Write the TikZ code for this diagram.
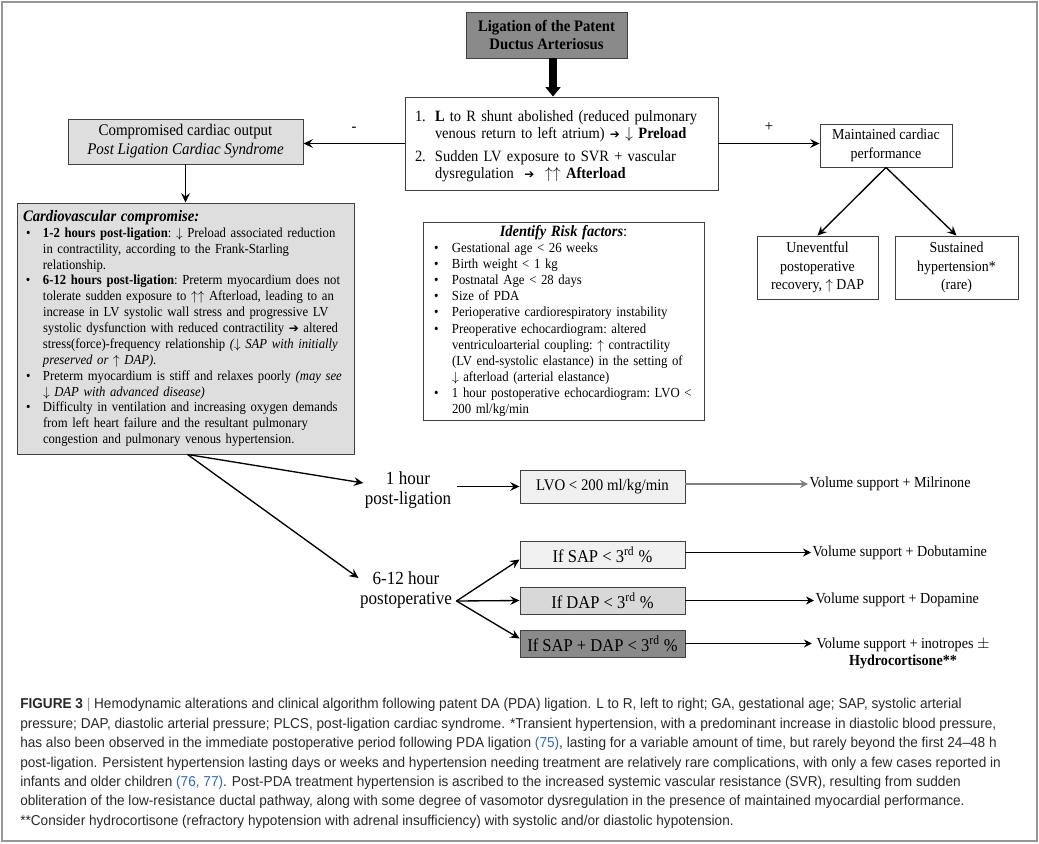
\documentclass[tikz,border=0pt]{standalone}
\usepackage{fontspec}
\setmainfont{Liberation Serif}[FakeStretch=0.92]
\setsansfont{Liberation Sans}
\newfontfamily\capfont[FakeStretch=0.95]{Liberation Sans}
\newfontfamily\symfont{DejaVu Sans}
\usetikzlibrary{arrows.meta,calc}
\definecolor{pdadark}{RGB}{138,138,138}
\definecolor{pdalight}{RGB}{222,222,222}
\definecolor{pdapale}{RGB}{240,240,240}
\definecolor{pdamid}{RGB}{216,216,216}
\definecolor{pdaframe}{RGB}{150,150,150}
\definecolor{pdacite}{RGB}{52,104,178}
\definecolor{pdacap}{RGB}{40,40,40}
\newlength\pxl \setlength\pxl{0.75pt}
\newlength\pdahang
\newlength\pdashift
\newcommand{\pdara}{{\symfont\small\char"2794}}
\newcommand{\pdabul}{\par\noindent\hangindent=\pdahang\hangafter=1%
    \makebox[\pdahang][l]{\hspace{\pdashift}\textbullet}}
\newcommand{\pdanum}[1]{\par\noindent\hangindent=\pdahang\hangafter=1%
    \makebox[\pdahang][l]{\hspace{\pdashift}#1}}
\newcommand{\pdafs}{\fontsize{10.35}{11.9}\selectfont}
\newcommand{\pdaflat}{\raggedright\frenchspacing\hyphenpenalty=10000\exhyphenpenalty=10000\hbadness=10000\hfuzz=20pt}
\tikzset{
    pdabox/.style={draw=black!75, line width=0.7pt, align=center, inner sep=2pt},
    pdalist/.style={pdabox, align=left, inner ysep=0pt},
    pdaarrow/.style={-{Stealth[length=7pt,width=6.5pt,inset=2.5pt]}, line width=1pt},
    pdathin/.style={-{Stealth[length=6pt,width=6pt,inset=2pt]}, line width=0.8pt},
    pdathick/.style={-{Triangle[length=7pt,width=11pt]}, line width=5.5pt},
    pdalabel/.style={align=center, inner sep=1pt}
}
\begin{document}
\begin{tikzpicture}[x=0.75pt, y=-0.75pt, font=\pdafs]
    \useasboundingbox (0,0) rectangle (1039,843);
    \draw[pdaframe, line width=0.8pt] (2,2) rectangle (1037,841);

    % top of the algorithm
    \node[pdabox, fill=pdadark, minimum width=161*\pxl, minimum height=46*\pxl,
        font=\fontsize{12}{14}\selectfont\bfseries] (ligation) at (546.5,35)
        {Ligation of the Patent\\Ductus Arteriosus};
    \node[pdalist, minimum width=313*\pxl, minimum height=93*\pxl, inner xsep=6*\pxl,
        text width=301*\pxl, font=\fontsize{11.8}{12.8}\selectfont] (shunt) at (561.5,143.5)
        {\pdaflat\setlength\pdahang{24\pxl}\setlength\pdashift{4\pxl}%
        \pdanum{1.}\textbf{L} to R shunt abolished (reduced pulmonary\newline
        venous return to left atrium) \pdara{} $\downarrow$ \textbf{Preload}\par
        \vspace{6\pxl}%
        \pdanum{2.}Sudden LV exposure to SVR + vascular\newline
        dysregulation \ \pdara{} \ $\uparrow\uparrow$ \textbf{Afterload}\par};
    \node[pdabox, fill=pdalight, minimum width=235*\pxl, minimum height=45*\pxl,
        font=\fontsize{12.2}{14.3}\selectfont] (compromised) at (185.5,141.5)
        {Compromised cardiac output\\\textit{Post Ligation Cardiac Syndrome}};
    \node[pdabox, minimum width=132*\pxl, minimum height=43*\pxl,
        font=\fontsize{11.4}{13.8}\selectfont] (maintained) at (886,145.5)
        {Maintained cardiac\\performance};
    \node[pdabox, minimum width=121*\pxl, minimum height=63*\pxl,
        font=\fontsize{11.3}{14}\selectfont] (uneventful) at (817.5,267.5)
        {Uneventful\\postoperative\\recovery, $\uparrow$ DAP};
    \node[pdabox, minimum width=123*\pxl, minimum height=63*\pxl,
        font=\fontsize{11.3}{14}\selectfont] (sustained) at (956.5,267.5)
        {Sustained\\hypertension*\\(rare)};

    \draw[pdathick] ([xshift=6.5*\pxl]ligation.south) -- ([xshift=6.5*\pxl]ligation.south |- shunt.north);
    \draw[pdaarrow] (shunt.west) -- (shunt.west -| compromised.east)
        node[midway, above=5pt, font=\fontsize{12}{12}\selectfont] {-};
    \draw[pdaarrow] (shunt.east) -- (shunt.east -| maintained.west)
        node[midway, above=5pt, font=\fontsize{12}{12}\selectfont] {+};
    \draw[pdaarrow] (maintained.south) -- (uneventful.north);
    \draw[pdaarrow] (maintained.south) -- (sustained.north);

    % compromise and risk factors
    \node[pdalist, fill=pdalight, minimum width=337*\pxl, minimum height=251*\pxl, inner xsep=6*\pxl,
        text width=325*\pxl] (cardio) at (185.5,328.5)
        {\pdaflat\setlength\pdahang{20\pxl}\setlength\pdashift{3\pxl}%
        {\fontsize{12}{11.9}\selectfont\bfseries\itshape Cardiovascular compromise:}
        \pdabul\textbf{1-2 hours post-ligation}: $\downarrow$ Preload associated reduction\newline
        in contractility, according to the Frank-Starling\newline
        relationship.
        \pdabul\textbf{6-12 hours post-ligation}: Preterm myocardium does not\newline
        tolerate sudden exposure to $\uparrow\uparrow$ Afterload, leading to an\newline
        increase in LV systolic wall stress and progressive LV\newline
        systolic dysfunction with reduced contractility \pdara{} altered\newline
        stress(force)-frequency relationship \textit{($\downarrow$ SAP with initially\newline
        preserved or $\uparrow$ DAP).}
        \pdabul Preterm myocardium is stiff and relaxes poorly \textit{(may see\newline
        $\downarrow$ DAP with advanced disease)}
        \pdabul Difficulty in ventilation and increasing oxygen demands\newline
        from left heart failure and the resultant pulmonary\newline
        congestion and pulmonary venous hypertension.\par};
    \node[pdalist, minimum width=281*\pxl, minimum height=198*\pxl, inner xsep=6*\pxl,
        text width=269*\pxl, font=\fontsize{10.4}{12.1}\selectfont] (risk) at (563.5,321)
        {\pdaflat\setlength\pdahang{23\pxl}\setlength\pdashift{5\pxl}%
        \centerline{\fontsize{11.8}{12.1}\selectfont\textbf{\textit{Identify Risk factors}}:}
        \pdabul Gestational age < 26 weeks
        \pdabul Birth weight < 1 kg
        \pdabul Postnatal Age < 28 days
        \pdabul Size of PDA
        \pdabul Perioperative cardiorespiratory instability
        \pdabul Preoperative echocardiogram: altered\newline
        ventriculoarterial coupling: $\uparrow$ contractility\newline
        (LV end-systolic elastance) in the setting of\newline
        $\downarrow$ afterload (arterial elastance)
        \pdabul 1 hour postoperative echocardiogram: LVO <\newline
        200 ml/kg/min\par};
    \draw[pdaarrow] (compromised.south) -- (compromised.south |- cardio.north);

    % clinical algorithm
    \node[pdalabel, font=\fontsize{13.9}{15}\selectfont] (onehour) at (408,490)
        {1 hour\\post-ligation};
    \node[pdalabel, font=\fontsize{13.9}{15}\selectfont] (sixhour) at (406,590)
        {6-12 hour\\postoperative};
    \coordinate (sixfork) at ([xshift=3*\pxl, yshift=-11*\pxl]sixhour.east);
    \draw[pdaarrow] ([xshift=2*\pxl]cardio.south) -- ([yshift=7*\pxl]onehour.west);
    \draw[pdaarrow] ([xshift=2*\pxl]cardio.south) -- ([yshift=12*\pxl]sixhour.west);

    \node[pdabox, fill=pdapale, minimum width=165*\pxl, minimum height=33*\pxl,
        font=\fontsize{12.1}{13}\selectfont] (lvo) at (602.5,486.5) {LVO < 200 ml/kg/min};
    \node[pdabox, fill=pdapale, minimum width=165*\pxl, minimum height=27*\pxl,
        font=\fontsize{13.5}{14}\selectfont] (sap) at (602.5,554.5) {If SAP < 3\textsuperscript{rd} \%};
    \node[pdabox, fill=pdamid, minimum width=165*\pxl, minimum height=27*\pxl,
        font=\fontsize{13.5}{14}\selectfont] (dap) at (602.5,600.5) {If DAP < 3\textsuperscript{rd} \%};
    \node[pdabox, fill=pdadark, minimum width=165*\pxl, minimum height=27*\pxl,
        font=\fontsize{13.5}{14}\selectfont] (sapdap) at (602.5,643.5) {If SAP + DAP < 3\textsuperscript{rd} \%};

    \draw[pdaarrow] ([xshift=4*\pxl]onehour.east |- lvo.west) -- (lvo.west);
    \draw[pdaarrow] (sixfork) -- ([yshift=-5*\pxl]sap.west);
    \draw[pdaarrow] (sixfork) -- (dap.west);
    \draw[pdaarrow] (sixfork) -- ([yshift=5*\pxl]sapdap.west);

    \node[pdalabel, anchor=west, font=\fontsize{11.5}{13}\selectfont] (milrinone) at (808,484)
        {Volume support + Milrinone};
    \node[pdalabel, anchor=west, font=\fontsize{11.5}{13}\selectfont] (dobutamine) at (811,553)
        {Volume support + Dobutamine};
    \node[pdalabel, anchor=west, font=\fontsize{11.5}{13}\selectfont] (dopamine) at (814,600)
        {Volume support + Dopamine};
    \node[pdalabel, font=\fontsize{11.5}{12.8}\selectfont] (inotropes) at (903,653)
        {Volume support + inotropes $\pm$\\\textbf{Hydrocortisone**}};

    \draw[pdathin, black!50] (lvo.east |- milrinone.west) -- (milrinone.west);
    \draw[pdathin] ([yshift=0.5*\pxl]sap.east |- dobutamine.west) -- ([yshift=0.5*\pxl]dobutamine.west);
    \draw[pdathin] (dap.east) -- (dap.east -| dopamine.west);
    \draw[pdathin] (sapdap.east) -- ([xshift=-3*\pxl]sapdap.east -| inotropes.west);

    % caption
    \node[anchor=north west, align=left, inner sep=0pt, text=pdacap,
        font=\capfont\fontsize{10.75}{14.6}\selectfont] (caption) at (20,698)
        {\textbf{FIGURE 3} {\color{black!40}|} Hemodynamic alterations and clinical algorithm following patent DA (PDA) ligation. L to R, left to right; GA, gestational age; SAP, systolic arterial\\
        pressure; DAP, diastolic arterial pressure; PLCS, post-ligation cardiac syndrome. *Transient hypertension, with a predominant increase in diastolic blood pressure,\\
        has also been observed in the immediate postoperative period following PDA ligation {\color{pdacite}(75)}, lasting for a variable amount of time, but rarely beyond the first 24–48 h\\
        post-ligation. Persistent hypertension lasting days or weeks and hypertension needing treatment are relatively rare complications, with only a few cases reported in\\
        infants and older children {\color{pdacite}(76, 77)}. Post-PDA treatment hypertension is ascribed to the increased systemic vascular resistance (SVR), resulting from sudden\\
        obliteration of the low-resistance ductal pathway, along with some degree of vasomotor dysregulation in the presence of maintained myocardial performance.\\
        **Consider hydrocortisone (refractory hypotension with adrenal insufficiency) with systolic and/or diastolic hypotension.};
\end{tikzpicture}
\end{document}
